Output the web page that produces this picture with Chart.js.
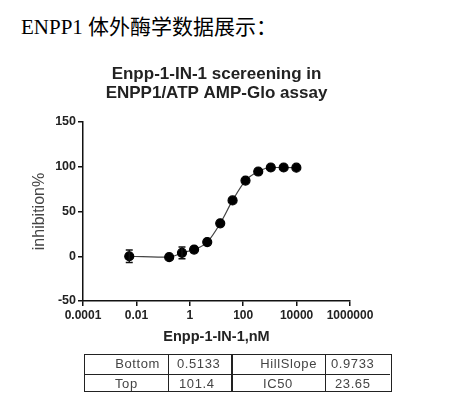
<!DOCTYPE HTML>
<html>
<head>
<meta charset="utf-8" />
<title>ENPP1</title>
<script src="https://cdn.jsdelivr.net/npm/chart.js@4.4.1/dist/chart.umd.min.js"></script>
<style>
  body { margin: 0; background: #fff; width: 463px; height: 413px; position: relative; overflow: hidden; }
  #head { position: absolute; left: 21px; top: 10px; font-family: "Liberation Serif", "Noto Sans CJK SC", serif; font-size: 21px; color: #000; white-space: nowrap; }
  #myChart { position: absolute; left: 0; top: 0; }
  .cell { position: absolute; font-family: "Liberation Sans", Arial, sans-serif; font-size: 13px; letter-spacing: 0.6px; color: #444; line-height: 20px; white-space: nowrap; }
  .box { position: absolute; border: 1px solid #222; }
  .hl { position: absolute; height: 1px; background: #222; }
  .vl { position: absolute; width: 1px; background: #222; }
</style>
</head>
<body>
<div id="head">ENPP1 体外酶学数据展示：</div>
<canvas id="myChart" width="463" height="413"></canvas>
<div id="tbl"></div>
<script type="text/javascript">
// concentrations (nM) and % inhibition
var doses = [0.0054, 0.169, 0.51, 1.45, 4.5, 13.8, 40, 122, 366, 1080, 3280, 9800];
var inhibition = [0, -1, 3.8, 7.5, 15.8, 36.8, 62.4, 84.6, 94.7, 99.2, 99.2, 99];
var errors = [7, 0, 6.5, 0, 0, 0, 0, 0, 0, 0, 0, 0];
var xTicks = [0.0001, 0.01, 1, 100, 10000, 1000000];
var xTickLabels = ['0.0001', '0.01', '1', '100', '10000', '1000000'];
var yTicks = [-50, 0, 50, 100, 150];
var paramsLeft = ['Bottom', 'Top'];
var valuesLeft = ['0.5133', '101.4'];
var paramsRight = ['HillSlope', 'IC50'];
var valuesRight = ['0.9733', '23.65'];

// fit-result table under the plot
function buildTable() {
  var t = document.getElementById('tbl');
  var html = '';
  // left block
  html += '<div class="box" style="left:84px;top:354px;width:146px;height:36px"></div>';
  html += '<div class="hl" style="left:84px;top:374px;width:147px"></div>';
  html += '<div class="vl" style="left:168px;top:354px;height:37px"></div>';
  // right block
  html += '<div class="box" style="left:231px;top:354px;width:158px;height:36px;border-left-width:2px"></div>';
  html += '<div class="hl" style="left:231px;top:374px;width:159px"></div>';
  html += '<div class="vl" style="left:325px;top:354px;height:37px"></div>';
  html += '<div class="cell" style="left:96px;top:354px;width:64px;text-align:right">' + paramsLeft[0] + '</div>';
  html += '<div class="cell" style="left:115px;top:374px">' + paramsLeft[1] + '</div>';
  html += '<div class="cell" style="left:177px;top:354px">' + valuesLeft[0] + '</div>';
  html += '<div class="cell" style="left:179px;top:374px">' + valuesLeft[1] + '</div>';
  html += '<div class="cell" style="left:240px;top:354px;width:77px;text-align:right">' + paramsRight[0] + '</div>';
  html += '<div class="cell" style="left:263px;top:374px">' + paramsRight[1] + '</div>';
  html += '<div class="cell" style="left:331px;top:354px">' + valuesRight[0] + '</div>';
  html += '<div class="cell" style="left:335px;top:374px">' + valuesRight[1] + '</div>';
  t.innerHTML = html;
}
buildTable();

var points = doses.map(function(d, i) { return { x: d, y: inhibition[i] }; });

var errorBars = {
  id: 'errorBars',
  afterDatasetsDraw: function(chart) {
    var ctx = chart.ctx, xs = chart.scales.x, ys = chart.scales.y;
    ctx.save();
    ctx.strokeStyle = '#111';
    ctx.lineWidth = 1.5;
    for (var i = 0; i < doses.length; i++) {
      if (!errors[i]) continue;
      var px = xs.getPixelForValue(doses[i]);
      var top = ys.getPixelForValue(inhibition[i] + errors[i]);
      var bot = ys.getPixelForValue(inhibition[i] - errors[i]);
      ctx.beginPath();
      ctx.moveTo(px, top); ctx.lineTo(px, bot);
      ctx.moveTo(px - 3.5, top); ctx.lineTo(px + 3.5, top);
      ctx.moveTo(px - 3.5, bot); ctx.lineTo(px + 3.5, bot);
      ctx.stroke();
    }
    ctx.restore();
  }
};

var fam = '"Liberation Sans", Arial, sans-serif';

var ctx = document.getElementById('myChart');
var myChart = new Chart(ctx, {
  type: 'scatter',
  data: {
    datasets: [{
      data: points,
      showLine: true,
      borderColor: '#444',
      borderWidth: 1.2,
      backgroundColor: '#000',
      pointBackgroundColor: '#000',
      pointBorderColor: '#000',
      pointRadius: 4.5,
      cubicInterpolationMode: 'monotone'
    }]
  },
  options: {
    responsive: false,
    animation: false,
    layout: { padding: { left: 30, right: 113, top: 0, bottom: 67 } },
    plugins: {
      legend: { display: false },
      tooltip: { enabled: false },
      title: {
        display: true,
        fullSize: false,
        text: ['Enpp-1-IN-1 scereening in', 'ENPP1/ATP AMP-Glo assay'],
        color: '#222',
        font: { family: fam, size: 17, weight: 'bold', lineHeight: 1.16 },
        padding: { top: 64, bottom: 18.6 }
      }
    },
    scales: {
      x: {
        type: 'logarithmic',
        min: 0.0001,
        max: 1000000,
        afterBuildTicks: function(scale) {
          scale.ticks = xTicks.map(function(v) { return { value: v }; });
        },
        afterFit: function(scale) { scale.height = 45; },
        ticks: {
          autoSkip: false,
          maxRotation: 0,
          color: '#222',
          font: { family: fam, size: 12, weight: 'bold' },
          padding: 2,
          callback: function(value) {
            var i = xTicks.indexOf(value);
            return i >= 0 ? xTickLabels[i] : '';
          }
        },
        grid: { drawOnChartArea: false, drawTicks: true, tickLength: 5, color: '#111', lineWidth: 1.5 },
        border: { display: true, color: '#111', width: 1.5 },
        title: {
          display: true,
          text: 'Enpp-1-IN-1,nM',
          color: '#222',
          font: { family: fam, size: 14.5, weight: 'bold' },
          padding: 0
        }
      },
      y: {
        min: -50,
        max: 150,
        afterBuildTicks: function(scale) {
          scale.ticks = yTicks.map(function(v) { return { value: v }; });
        },
        afterFit: function(scale) { scale.width = 53; },
        ticks: { color: '#222', font: { family: fam, size: 12.5, weight: 'bold' }, padding: 2 },
        grid: { drawOnChartArea: false, drawTicks: true, tickLength: 5, color: '#111', lineWidth: 1.5 },
        border: { display: true, color: '#111', width: 1.5 },
        title: {
          display: true,
          text: 'inhibition%',
          color: '#444',
          font: { family: fam, size: 16 },
          padding: 0
        }
      }
    }
  },
  plugins: [errorBars]
});
</script>
</body>
</html>
